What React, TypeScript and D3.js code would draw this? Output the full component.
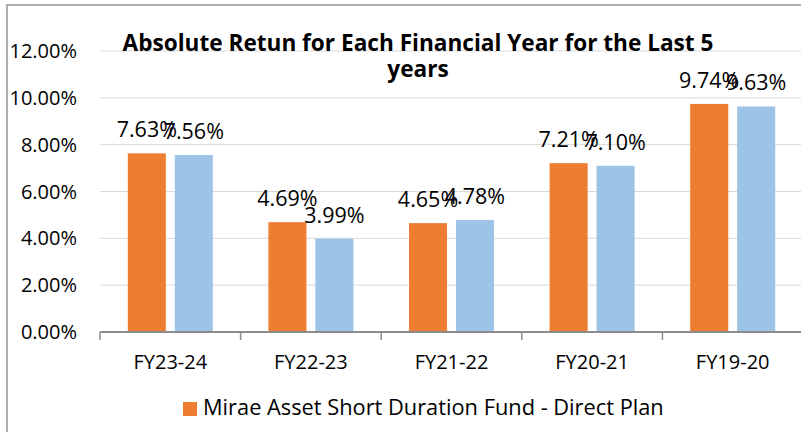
import React from "react";
import * as d3 from "d3";

const categories = ["FY23-24", "FY22-23", "FY21-22", "FY20-21", "FY19-20"];
const seriesNames = ["Mirae Asset Short Duration Fund - Direct Plan", "Benchmark"];
const fundValues = [7.63, 4.69, 4.65, 7.21, 9.74];
const benchValues = [7.56, 3.99, 4.78, 7.1, 9.63];
const yTicks = [0, 2, 4, 6, 8, 10, 12];
const titleLines = ["Absolute Retun for Each Financial Year for the Last 5", "years"];

const colors = ["#ED7D31", "#9DC3E6"];
const FONT = "'Open Sans', 'Noto Sans', sans-serif";

export default function App() {
  const W = 801;
  const H = 432;
  const x = d3.scaleBand<string>().domain(categories).range([100, 803]).paddingInner(0).paddingOuter(0);
  const x1 = d3.scaleBand<string>().domain(["0", "1"]).range([0, 85]).paddingInner(0.19);
  const y = d3.scaleLinear().domain([0, 12]).range([332, 51]);
  const series = [fundValues, benchValues];
  const bw = x.bandwidth();

  return (
    <svg width={W} height={H} style={{ display: "block", position: "absolute", left: 0, top: 0 }} fontFamily={FONT}>
      <rect x={0} y={0} width={W} height={H} fill="#fff" />
      <rect x={7} y={5} width={W + 20} height={H + 20} fill="none" stroke="#a6a6a6" strokeWidth={1.8} />
      {yTicks.slice(1).map((t) => (
        <line key={t} x1={100} x2={803} y1={y(t)} y2={y(t)} stroke="#d9d9d9" strokeWidth={1} />
      ))}
      {yTicks.map((t) => (
        <text key={"l" + t} x={77} y={y(t) + 7} textAnchor="end" fontSize={20} fill="#000">
          {d3.format(".2f")(t) + "%"}
        </text>
      ))}
      {categories.map((c, i) =>
        series.map((vals, s) => {
          const cx = (x(c) as number) + bw / 2 - 42.5 + (x1(String(s)) as number);
          return (
            <rect key={c + s} x={cx} y={y(vals[i])} width={x1.bandwidth()} height={y(0) - y(vals[i])} fill={colors[s]} />
          );
        })
      )}
      <line x1={100} x2={803} y1={y(0)} y2={y(0)} stroke="#8c8c8c" strokeWidth={1.8} />
      {categories.map((c) => (
        <line key={"t" + c} x1={x(c) as number} x2={x(c) as number} y1={y(0)} y2={y(0) + 8} stroke="#8c8c8c" strokeWidth={1.5} />
      ))}
      {categories.map((c) => (
        <text key={"x" + c} x={(x(c) as number) + bw / 2} y={369} textAnchor="middle" fontSize={20} fill="#000">
          {c}
        </text>
      ))}
      {titleLines.map((t, i) => (
        <text key={"ti" + i} x={418} y={51 + i * 26} textAnchor="middle" fontSize={22.6} fontWeight="bold" fill="#000">
          {t}
        </text>
      ))}
      {categories.map((c, i) =>
        series.map((vals, s) => {
          const cx = (x(c) as number) + bw / 2 - 42.5 + (x1(String(s)) as number) + x1.bandwidth() / 2;
          return (
            <text key={"d" + c + s} x={cx} y={y(vals[i]) - 16} textAnchor="middle" fontSize={21.5} fill="#000">
              {d3.format(".2f")(vals[i]) + "%"}
            </text>
          );
        })
      )}
      <rect x={183} y={402} width={14} height={14} fill={colors[0]} />
      <text x={203} y={415} fontSize={21.8} fill="#000">
        {seriesNames[0]}
      </text>
    </svg>
  );
}
